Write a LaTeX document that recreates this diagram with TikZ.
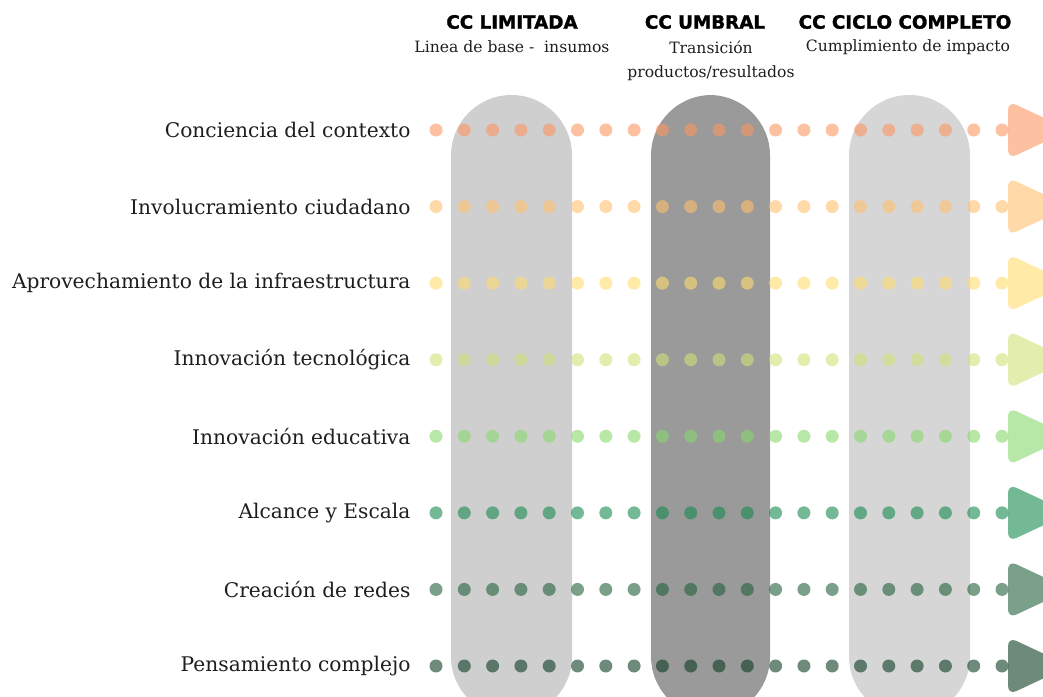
\documentclass[tikz,border=0pt]{standalone}
\usepackage{fontspec}
\setmainfont{DejaVu Serif}
\newfontfamily\headfont{DejaVu Sans Bold}[FakeBold=1.6]
\usetikzlibrary{positioning}

\definecolor{pilllight}{RGB}{208,207,208}
\definecolor{pilldark}{RGB}{154,154,154}
\definecolor{pillpale}{RGB}{214,214,214}
\definecolor{txt}{RGB}{30,30,30}
% row colours (drawn at 60% opacity)
\definecolor{row1}{RGB}{252,150,97}
\definecolor{row2}{RGB}{255,192,110}
\definecolor{row3}{RGB}{255,220,110}
\definecolor{row4}{RGB}{207,225,120}
\definecolor{row5}{RGB}{137,217,110}
\definecolor{row6}{RGB}{23,138,80}
\definecolor{row7}{RGB}{33,97,60}
\definecolor{row8}{RGB}{12,60,35}

\tikzset{
  lab/.style={anchor=east, text=txt, font=\fontsize{20.2}{24}\selectfont},
  head/.style={text=black, font=\headfont\fontsize{18.3}{21}\selectfont},
  sub/.style={text=txt, font=\fontsize{15.6}{19}\selectfont},
  pill/.style={rounded corners=60.5pt},
  dot/.style={fill opacity=0.6},
}

\begin{document}
\begin{tikzpicture}[x=1pt,y=-1pt]
  \useasboundingbox (0,0) rectangle (1043,696);
  \clip (0,0) rectangle (1043,696);

  % stage columns
  \fill[pilllight, pill] (451,95) rectangle (572,717);
  \fill[pilldark, pill]  (651,95) rectangle (770,717);
  \fill[pillpale, pill]  (849,95) rectangle (970,717);

  % headings
  \node[head] (hlim) at (512,22) {CC LIMITADA};
  \node[sub]  (slim) at (512,47) {Linea de base -\ \ insumos};
  \node[head] (humb) at (705,22) {CC UMBRAL};
  \node[sub]  (sumb) at (711,47) {Transición};
  \node[sub]  (sumbb) at (711,73) {productos/resultados};
  \node[head] (hcic) at (905,22) {CC CICLO COMPLETO};
  \node[sub]  (scic) at (908,47) {Cumplimiento de impacto};

  % rows of dots
  \foreach \c/\t [count=\r] in {row1/Conciencia del contexto,
      row2/Involucramiento ciudadano,
      row3/Aprovechamiento de la infraestructura,
      row4/Innovación tecnológica,
      row5/Innovación educativa,
      row6/Alcance y Escala,
      row7/Creación de redes,
      row8/Pensamiento complejo} {
    \pgfmathsetmacro\y{130+(\r-1)*76.57}
    \node[lab] (l\r) at (414,\y) {\t};
    \foreach \i in {0,...,20}
      \fill[\c, dot] (436+\i*28.3,\y) circle (6.5pt);
    \fill[\c, dot, rounded corners=9pt] (1008,\y-29) -- (1070,\y) -- (1008,\y+29) -- cycle;
  }
\end{tikzpicture}
\end{document}
